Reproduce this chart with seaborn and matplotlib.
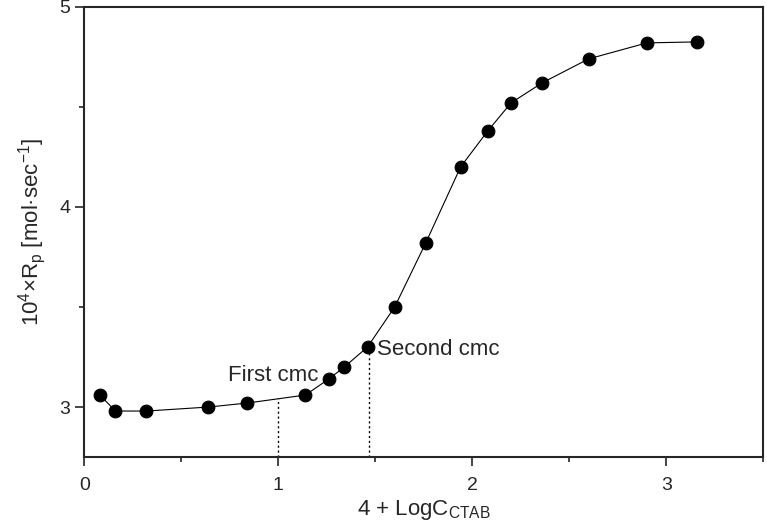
import numpy as np
import pandas as pd
import seaborn as sns
import matplotlib.pyplot as plt
from matplotlib.ticker import MultipleLocator

log_c = [0.08, 0.16, 0.32, 0.64, 0.84, 1.14, 1.26, 1.34, 1.46, 1.60,
         1.76, 1.94, 2.08, 2.20, 2.36, 2.60, 2.90, 3.16]
rate = [3.06, 2.98, 2.98, 3.00, 3.02, 3.06, 3.14, 3.20, 3.30, 3.50,
        3.82, 4.20, 4.38, 4.52, 4.62, 4.74, 4.82, 4.825]
cmc_x = [1.00, 1.47]
cmc_y = [3.045, 3.31]
cmc_labels = ['First cmc', 'Second cmc']

df = pd.DataFrame({'x': log_c, 'y': rate})

sns.set_style('ticks')
plt.rcParams['font.family'] = ['Liberation Sans', 'DejaVu Sans']
plt.rcParams['mathtext.default'] = 'regular'

fig = plt.figure(figsize=(7.67, 5.29), dpi=100)
ax = fig.add_axes([0.110, 0.136, 0.885, 0.851])

sns.lineplot(data=df, x='x', y='y', color='black', linewidth=0.8, ax=ax)
sns.scatterplot(data=df, x='x', y='y', color='black', s=85, edgecolor='black', ax=ax, zorder=3)

ax.vlines(cmc_x, 2.75, cmc_y, colors='black', linestyles=(0, (1.5, 2)), linewidth=1)
ax.text(1.205, 3.16, cmc_labels[0], fontsize=16, ha='right', va='center')
ax.text(1.51, 3.29, cmc_labels[1], fontsize=16, ha='left', va='center')

ax.set_xlim(0, 3.5)
ax.set_ylim(2.75, 5)
ax.xaxis.set_major_locator(MultipleLocator(1))
ax.xaxis.set_minor_locator(MultipleLocator(0.5))
ax.yaxis.set_major_locator(MultipleLocator(1))
ax.yaxis.set_minor_locator(MultipleLocator(0.5))
ax.tick_params(which='major', length=6.5, width=1.2, labelsize=14, direction='out')
ax.tick_params(which='minor', length=3.5, width=1.2, direction='out')
ax.tick_params(axis='x', which='major', pad=8)
for s in ax.spines.values():
    s.set_linewidth(1.5)

ax.set_xlabel('4 + LogC$_{CTAB}$', fontsize=16, labelpad=3)
ax.set_ylabel('10$^4$×R$_p$ [mol·sec$^{-1}$]', fontsize=16, labelpad=8)

fig.savefig('out.png', dpi=100)
